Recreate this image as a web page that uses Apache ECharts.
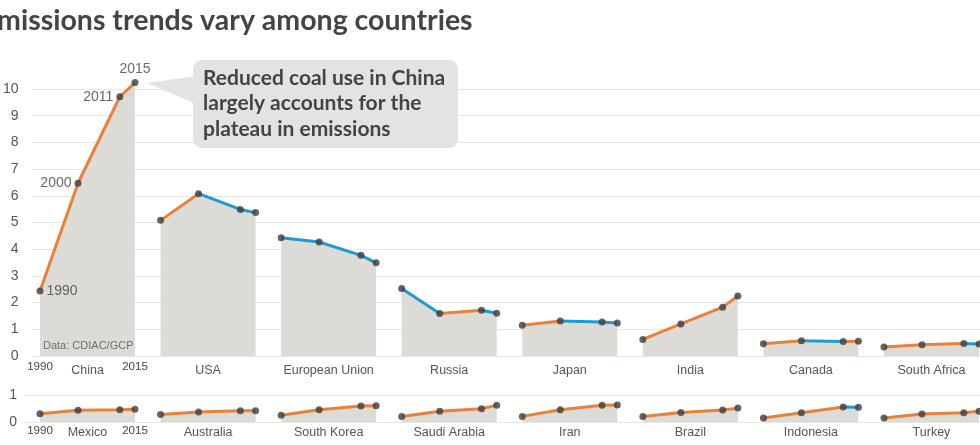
<!DOCTYPE html>
<html><head><meta charset="utf-8">
<script src="https://cdn.jsdelivr.net/npm/echarts@6/dist/echarts.min.js"></script>
<style>html,body{margin:0;padding:0;background:#fff;overflow:hidden}#c{width:980px;height:445px}</style>
</head><body><div id="c"></div>
<script>
// ---- data ----
const years = [1990, 2000, 2011, 2015];
const topCountries = ['China', 'USA', 'European Union', 'Russia', 'Japan', 'India', 'Canada', 'South Africa'];
const bottomCountries = ['Mexico', 'Australia', 'South Korea', 'Saudi Arabia', 'Iran', 'Brazil', 'Indonesia', 'Turkey'];
const china = [2.43, 6.47, 9.71, 10.24];
const usa = [5.08, 6.08, 5.49, 5.37];
const europeanUnion = [4.43, 4.27, 3.77, 3.49];
const russia = [2.53, 1.59, 1.71, 1.60];
const japan = [1.15, 1.31, 1.27, 1.24];
const india = [0.62, 1.20, 1.83, 2.25];
const canada = [0.46, 0.57, 0.545, 0.555];
const southAfrica = [0.34, 0.42, 0.47, 0.45];
const mexico = [0.31, 0.44, 0.46, 0.48];
const australia = [0.28, 0.37, 0.42, 0.425];
const southKorea = [0.25, 0.46, 0.60, 0.61];
const saudiArabia = [0.21, 0.40, 0.50, 0.63];
const iran = [0.21, 0.46, 0.63, 0.64];
const brazil = [0.21, 0.36, 0.45, 0.52];
const indonesia = [0.15, 0.35, 0.56, 0.55];
const turkey = [0.15, 0.30, 0.35, 0.40];
const topValues = [china, usa, europeanUnion, russia, japan, india, canada, southAfrica];
const bottomValues = [mexico, australia, southKorea, saudiArabia, iran, brazil, indonesia, turkey];
const topTicks = [0, 1, 2, 3, 4, 5, 6, 7, 8, 9, 10];
const bottomTicks = [0, 1];
const endYearLabels = [1990, 2015];
const chinaPointLabels = ['1990', '2000', '2011', '2015'];
const titleText = 'Emissions trends vary among countries';
const noteText = 'Reduced coal use in China\nlargely accounts for the\nplateau in emissions';
const sourceText = 'Data: CDIAC/GCP';

// ---- styles ----
const ORANGE = '#e8813a', BLUE = '#1e9bd2', AREA = '#dcdbd5', DOT = '#3d3d3d';
const TXT = '#555';
const PITCH = 120.57, COL_W = 95, COL_LEFT = 40;
const TOP_Y = 89, TOP_H = 267, BOT_Y = 395.3, BOT_H = 26.7;
const HEAD = 1.2; // extra room (in data units) above the top tick for country panels

const grids = [], xAxes = [], yAxes = [], series = [];

grids.push({left: 25, right: 0, top: TOP_Y, height: TOP_H});
grids.push({left: 25, right: 0, top: BOT_Y, height: BOT_H});
xAxes.push({gridIndex: 0, type: 'value', show: false, min: 0, max: 1});
xAxes.push({gridIndex: 1, type: 'value', show: false, min: 0, max: 1});
yAxes.push({gridIndex: 0, type: 'value', min: topTicks[0], max: topTicks[topTicks.length - 1], interval: 1,
  axisLine: {show: false}, axisTick: {show: false},
  axisLabel: {color: TXT, fontSize: 14, margin: 13, fontFamily: 'Liberation Sans'},
  splitLine: {lineStyle: {color: '#e6e6e6', width: 1}}});
yAxes.push({gridIndex: 1, type: 'value', min: bottomTicks[0], max: bottomTicks[1], interval: 1,
  axisLine: {show: false}, axisTick: {show: false},
  axisLabel: {color: TXT, fontSize: 14, margin: 8, fontFamily: 'Liberation Sans'},
  splitLine: {lineStyle: {color: '#e6e6e6', width: 1}}});

function segData(vals, up) {
  const data = [];
  let last = -5;
  for (let j = 0; j < vals.length - 1; j++) {
    const isUp = vals[j + 1] >= vals[j];
    if (isUp !== up) continue;
    if (last === j - 1) {
      data.push([years[j + 1], vals[j + 1]]);
    } else {
      if (data.length) data.push([(years[last + 1] + years[j]) / 2, '-']);
      data.push([years[j], vals[j]]);
      data.push([years[j + 1], vals[j + 1]]);
    }
    last = j;
  }
  return data;
}

function addPanel(names, valuesList, top, height, ymax, firstLabels) {
  const unit = height / ymax;
  const gTop = top - HEAD * unit, gH = height + HEAD * unit;
  names.forEach((name, i) => {
    const gi = grids.length;
    grids.push({left: COL_LEFT + i * PITCH, width: COL_W, top: gTop, height: gH});
    const showYears = (i === 0);
    xAxes.push({gridIndex: gi, type: 'value', min: years[0], max: years[years.length - 1],
      name: name, nameLocation: 'middle', nameGap: (ymax > 1 ? 8 : 4), nameMoveOverlap: false,
      nameTextStyle: {color: TXT, fontSize: 12.5, fontFamily: 'Liberation Sans', verticalAlign: 'top'},
      axisLine: {show: false}, axisTick: {show: false}, splitLine: {show: false},
      axisLabel: showYears ? {show: true, customValues: endYearLabels, color: '#444', fontSize: 11.5,
        formatter: v => String(v), margin: (ymax > 1 ? 5 : 3), fontFamily: 'Liberation Sans'} : {show: false}});
    yAxes.push({gridIndex: gi, type: 'value', min: 0, max: ymax + HEAD, show: false});
    const vals = valuesList[i];
    const pts = years.map((y, k) => [y, vals[k]]);
    series.push({type: 'line', xAxisIndex: gi, yAxisIndex: gi, data: pts, symbol: 'none', silent: true,
      lineStyle: {width: 0, opacity: 0}, areaStyle: {color: AREA, opacity: 1}, z: 1});
    const od = segData(vals, true), bd = segData(vals, false);
    if (od.length) series.push({type: 'line', xAxisIndex: gi, yAxisIndex: gi, data: od, symbol: 'none',
      connectNulls: false, lineStyle: {width: 3, color: ORANGE}, z: 2, silent: true});
    if (bd.length) series.push({type: 'line', xAxisIndex: gi, yAxisIndex: gi, data: bd, symbol: 'none',
      connectNulls: false, lineStyle: {width: 3, color: BLUE}, z: 2, silent: true});
    const labelPos = ['right', 'left', 'left', 'top'];
    const dots = pts.map((p, k) => {
      const item = {value: p};
      if (firstLabels && i === 0) {
        item.label = {show: true, position: labelPos[k], formatter: chinaPointLabels[k],
          color: '#444', fontSize: 14, distance: 3, fontFamily: 'Liberation Sans'};
      }
      return item;
    });
    series.push({type: 'scatter', xAxisIndex: gi, yAxisIndex: gi, data: dots, symbol: 'circle',
      symbolSize: 7, itemStyle: {color: DOT}, z: 3, silent: true, clip: false});
  });
}
addPanel(topCountries, topValues, TOP_Y, TOP_H, 10, true);
addPanel(bottomCountries, bottomValues, BOT_Y, BOT_H, 1, false);

const option = {
  animation: false,
  backgroundColor: '#fff',
  grid: grids, xAxis: xAxes, yAxis: yAxes, series: series,
  graphic: [
    {type: 'text', left: -19, top: 6, style: {text: titleText, font: 'bold 28.5px Lato, "Open Sans", sans-serif', fill: '#444'}},
    {type: 'polygon', shape: {points: [[147, 83], [196, 76], [196, 104]]}, style: {fill: '#e3e3e3'}},
    {type: 'rect', shape: {x: 193, y: 60, width: 265, height: 88, r: 9}, style: {fill: '#e3e3e3'}},
    {type: 'text', x: 203, y: 65, style: {text: noteText, font: 'bold 21px Lato, "Open Sans", sans-serif', fill: '#444', lineHeight: 25.5}},
    {type: 'text', x: 43, y: 340, z: 10, style: {text: sourceText, font: '11px "Liberation Sans", sans-serif', fill: '#6f6f6f'}}
  ]
};
const chart = echarts.init(document.getElementById('c'), null, {renderer: 'canvas'});
chart.setOption(option);
</script>
</body></html>
